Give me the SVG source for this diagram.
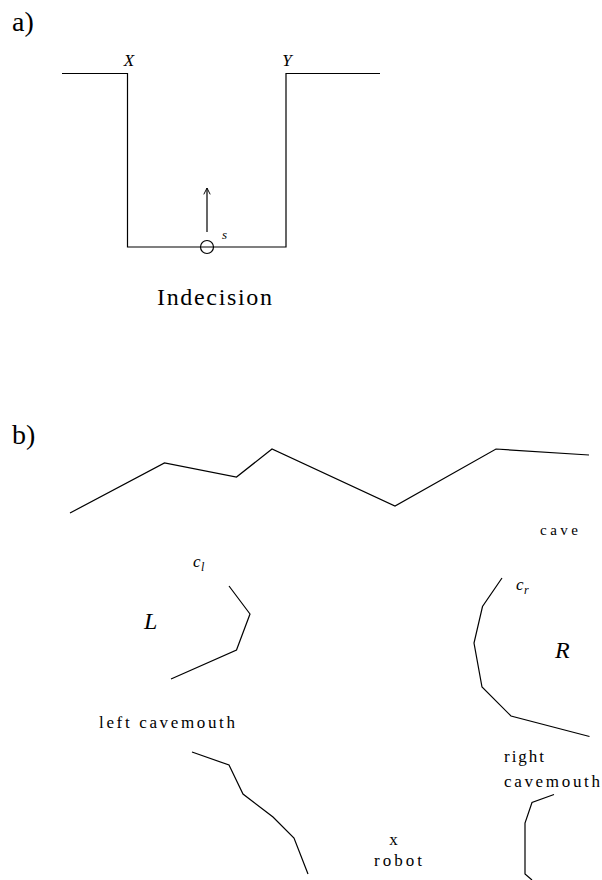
<svg xmlns="http://www.w3.org/2000/svg" width="602" height="880" viewBox="0 0 602 880">
<style>
.ln{fill:none;stroke:#000;stroke-width:1.2;stroke-linejoin:miter}
.t{font-family:"Liberation Serif","DejaVu Serif",serif;fill:#000}
.i{font-family:"Liberation Serif","DejaVu Serif",serif;font-style:italic;fill:#000}
</style>
<defs>
<marker id="ah" viewBox="0 0 10 10" refX="9" refY="5" markerWidth="8" markerHeight="8" markerUnits="userSpaceOnUse" orient="auto">
<path d="M1,1 L9,5 L1,9" fill="none" stroke="#000" stroke-width="1.2"/>
</marker>
</defs>
<rect width="602" height="880" fill="#fff"/>
<g id="panel-a">
<text class="t" x="12" y="31" font-size="28">a)</text>
<g id="trough"><path class="ln" d="M62,73.5 H127.5 V247 H286 V73.5 H380"/></g>
<text class="i" x="129" y="66" font-size="17" text-anchor="middle">X</text>
<text class="i" x="287" y="66" font-size="17" text-anchor="middle">Y</text>
<g id="s"><circle cx="207" cy="247" r="6.5" fill="none" stroke="#000" stroke-width="1.2"/>
<text class="i" x="222" y="239" font-size="13">s</text></g>
<g id="connectors"><line class="ln" x1="207" y1="232" x2="207" y2="188" marker-end="url(#ah)"/></g>
<text class="t" x="157" y="305" font-size="24" textLength="115" lengthAdjust="spacing">Indecision</text>
</g>
<g id="panel-b">
<text class="t" x="12" y="444" font-size="28">b)</text>
<g id="cave-top"><polyline class="ln" points="70,513 164.5,463 236.5,477 272,449 395,506 496,449 589,455"/></g>
<text class="t" x="540" y="535" font-size="15" textLength="38" lengthAdjust="spacing">cave</text>
<g id="left-cave"><polyline class="ln" points="229,586 250,614 236.5,650 171,679"/>
<text class="i" x="193" y="567" font-size="17">c</text><text class="i" x="201" y="571" font-size="12">l</text>
<text class="i" x="144" y="629" font-size="24">L</text></g>
<g id="right-cave"><polyline class="ln" points="502,578 482.5,606.5 474,643 482,687 511,716 589.5,736.5"/>
<text class="i" x="516" y="590" font-size="17">c</text><text class="i" x="524" y="594" font-size="12">r</text>
<text class="i" x="555" y="658" font-size="24">R</text></g>
<text class="t" x="99" y="728" font-size="17" textLength="136" lengthAdjust="spacing">left cavemouth</text>
<g id="left-mouth"><polyline class="ln" points="192,752 229,765 243,794 273,817 294,838 308,874"/></g>
<text class="t" x="504" y="762" font-size="17" textLength="40" lengthAdjust="spacing">right</text>
<text class="t" x="504" y="786.5" font-size="17" textLength="96" lengthAdjust="spacing">cavemouth</text>
<g id="right-mouth"><polyline class="ln" points="554,794.5 532,802.5 525,823 525,874 532,880"/></g>
<g id="robot"><text class="t" x="393.5" y="845" font-size="17" text-anchor="middle">x</text>
<text class="t" x="374" y="866" font-size="17" textLength="48" lengthAdjust="spacing">robot</text></g>
</g>
</svg>
